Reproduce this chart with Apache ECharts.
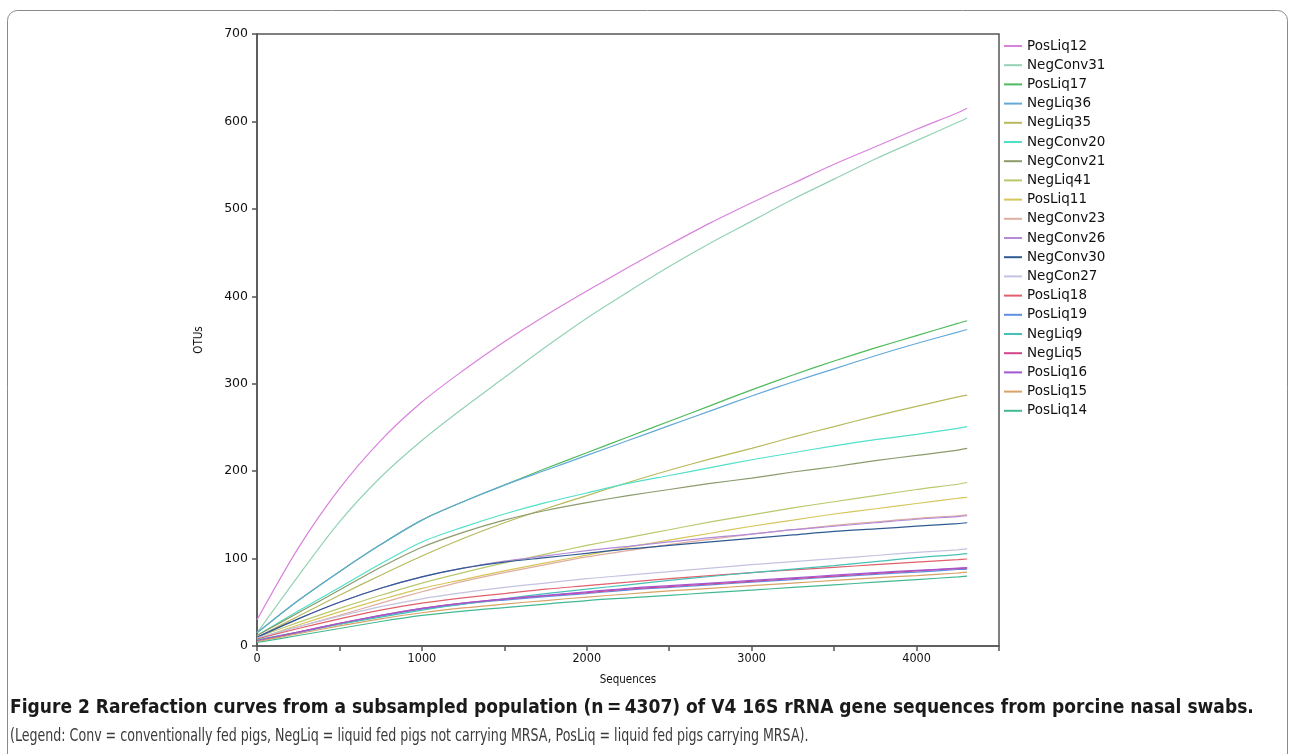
<!DOCTYPE html>
<html><head><meta charset="utf-8">
<script src="https://cdn.jsdelivr.net/npm/echarts@6/dist/echarts.min.js"></script>
<style>html,body{margin:0;padding:0;background:#fff}#c{width:1290px;height:754px}</style>
</head><body><div id="c"></div>
<script>
const sequences = [0, 250, 500, 750, 1000, 1250, 1500, 1750, 2000, 2250, 2500, 2750, 3000, 3250, 3500, 3750, 4000, 4250, 4307];
const sampleNames = ['PosLiq12','NegConv31','PosLiq17','NegLiq36','NegLiq35','NegConv20','NegConv21','NegLiq41','PosLiq11','NegConv23','NegConv26','NegConv30','NegCon27','PosLiq18','PosLiq19','NegLiq9','NegLiq5','PosLiq16','PosLiq15','PosLiq14'];
const PosLiq12  = [30, 112, 180, 235, 279, 315, 348, 378, 406, 433, 459, 484, 507, 529, 551, 571, 591, 610, 615];
const NegConv31 = [15, 80, 142, 193, 235, 272, 307, 342, 375, 405, 434, 461, 486, 511, 534, 557, 578, 599, 604];
const PosLiq17  = [15, 52, 85, 116, 144, 165, 184, 203, 221, 239, 257, 275, 293, 310, 326, 341, 355, 369, 372];
const NegLiq36  = [15, 52, 85, 116, 144, 165, 184, 201, 218, 235, 252, 269, 286, 302, 317, 332, 346, 359, 362];
const NegLiq35  = [10, 34, 58, 81, 103, 123, 141, 157, 172, 187, 201, 214, 226, 239, 251, 263, 274, 285, 287];
const NegConv20 = [12, 40, 67, 94, 119, 136, 151, 164, 175, 186, 195, 204, 213, 221, 229, 236, 242, 249, 251];
const NegConv21 = [12, 38, 64, 90, 113, 130, 144, 155, 164, 172, 179, 186, 192, 199, 205, 212, 218, 224, 226];
const NegLiq41  = [10, 27, 43, 58, 72, 84, 95, 105, 115, 124, 133, 142, 150, 158, 165, 172, 179, 185, 187];
const PosLiq11  = [8, 24, 39, 53, 66, 76, 86, 95, 104, 113, 121, 129, 137, 144, 151, 157, 163, 169, 170];
const NegConv23 = [8, 22, 35, 49, 62, 74, 84, 93, 102, 109, 116, 122, 128, 133, 138, 142, 146, 149, 150];
const NegConv26 = [10, 31, 50, 66, 79, 89, 97, 103, 109, 114, 119, 124, 128, 133, 137, 141, 145, 148, 149];
const NegConv30 = [10, 31, 50, 66, 79, 89, 96, 101, 106, 111, 115, 119, 123, 127, 131, 134, 137, 140, 141];
const NegCon27  = [9, 22, 34, 45, 54, 61, 67, 72, 77, 81, 85, 89, 93, 96.5, 100, 103.5, 107, 110, 111];
const PosLiq18  = [8, 20, 31, 41, 49, 55, 60, 65, 69, 73, 77, 80.5, 84, 87, 90, 93, 96, 98.8, 99.5];
const PosLiq19  = [6, 15, 25, 34, 42, 48, 52.5, 56.5, 60, 64, 67, 70, 73, 76, 79, 82, 84.5, 87.5, 88];
const NegLiq9   = [7, 16, 25, 33, 41, 48, 54, 60, 65, 70, 75, 79.5, 84, 88, 92, 96.5, 101, 104.5, 105.6];
const NegLiq5   = [6, 16, 26, 35, 43, 49, 53.5, 57.5, 61, 65, 68, 71, 74, 77, 80, 83, 86, 88.5, 89];
const PosLiq16  = [6, 16, 26, 35, 43, 49, 54, 58, 62, 66, 69, 72, 75, 78, 81, 84, 86.5, 89, 89.6];
const PosLiq15  = [5, 14, 23, 31, 38, 43.5, 48, 52, 56, 59.5, 63, 66, 69, 72, 75, 78, 80.5, 83.5, 84.5];
const PosLiq14  = [4, 12, 20, 28, 35, 40, 44, 48, 52, 55, 58, 61, 64, 67, 70, 73, 76, 79, 80];
const seriesValues = [PosLiq12, NegConv31, PosLiq17, NegLiq36, NegLiq35, NegConv20, NegConv21, NegLiq41, PosLiq11, NegConv23, NegConv26, NegConv30, NegCon27, PosLiq18, PosLiq19, NegLiq9, NegLiq5, PosLiq16, PosLiq15, PosLiq14];
const colors = ['#d982dc','#93d3b3','#4fbb5c','#63a9d9','#b7b95c','#52e0c8','#8b9b6b','#b9c96c','#d6c65c','#dfae9f','#b48bd8','#2f5b92','#c3c3e0','#e0606c','#5f8fe2','#45c2b8','#d2448c','#a456d2','#d9a266','#43b993'];
const yTicks = [0,100,200,300,400,500,600,700];

const chart = echarts.init(document.getElementById('c'), null, {renderer:'canvas'});
const series = sampleNames.map((n,i)=>({
  name:n, type:'line', smooth:0.3, showSymbol:false, symbol:'none',
  lineStyle:{width:1.2, color:colors[i]}, itemStyle:{color:colors[i]},
  data: sequences.map((x,j)=>[x, seriesValues[i][j]])
}));
chart.setOption({
  animation:false,
  backgroundColor:'#fff',
  grid:{left:257, right:291, top:34, bottom:108, show:true, borderColor:'#555', borderWidth:1.5},
  xAxis:{type:'value', min:0, max:4500, interval:500,
    name:'Sequences', nameLocation:'middle', nameGap:28,
    nameTextStyle:{fontFamily:'DejaVu Sans Condensed, DejaVu Sans', fontSize:11.5, color:'#111'},
    axisLine:{lineStyle:{color:'#555', width:1.5}},
    axisTick:{length:5, lineStyle:{color:'#555', width:1.5}},
    splitLine:{show:false},
    axisLabel:{fontFamily:'DejaVu Sans Condensed, DejaVu Sans', fontSize:12.5, color:'#111', margin:6,
      formatter:v=> v%1000===0 ? String(v) : ''}},
  yAxis:{type:'value', min:0, max:700, interval:100,
    name:'OTUs', nameLocation:'middle', nameGap:52, nameRotate:90,
    nameTextStyle:{fontFamily:'DejaVu Sans Condensed, DejaVu Sans', fontSize:11.5, color:'#111'},
    axisLine:{show:true, lineStyle:{color:'#555', width:1.5}},
    axisTick:{show:true, length:5, lineStyle:{color:'#555', width:1.5}},
    splitLine:{show:false},
    axisLabel:{fontFamily:'DejaVu Sans', fontSize:12.5, color:'#111', margin:9,
      formatter:v=> yTicks.includes(v) ? String(v) : ''}},
  legend:{orient:'vertical', left:1004, top:38, padding:0, icon:'rect', itemWidth:18, itemHeight:2, itemGap:3.2,
    textStyle:{fontFamily:'DejaVu Sans', fontSize:13.5, color:'#111', lineHeight:16},
    data:sampleNames},
  graphic:[
    {type:'rect', left:5, top:8, shape:{width:1280, height:780, r:[10,10,0,0]}, silent:true, z:-10,
      style:{fill:null, stroke:'#8a8a8a', lineWidth:1}},
    {type:'text', x:10, y:699, style:{text:'Figure 2 Rarefaction curves from a subsampled population (n\u2009=\u20094307) of V4 16S rRNA gene sequences from porcine nasal swabs.',
      fontFamily:'Liberation Sans Narrow, DejaVu Sans Condensed', fontWeight:'bold', fontSize:19, fill:'#1a1a1a'}},
    {type:'text', x:10, y:727, scaleX:0.78, style:{text:'(Legend: Conv = conventionally fed pigs, NegLiq = liquid fed pigs not carrying MRSA, PosLiq = liquid fed pigs carrying MRSA).',
      fontFamily:'Liberation Sans Narrow, DejaVu Sans Condensed', fontSize:18, fill:'#3a3a3a'}}
  ],
  series
});
</script></body></html>
